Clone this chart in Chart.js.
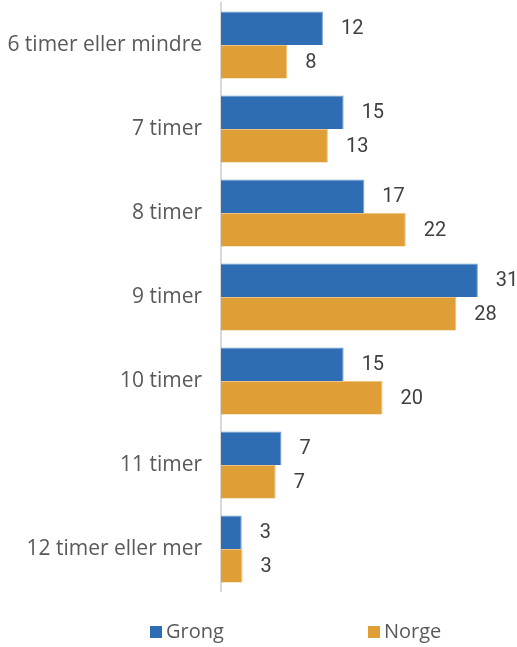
<!DOCTYPE html>
<html><head><meta charset="utf-8">
<script src="https://cdn.jsdelivr.net/npm/chart.js@4.4.0/dist/chart.umd.min.js"></script>
<style>html,body{margin:0;padding:0;background:#fff}#wrap{width:517px;height:647px}</style>
</head><body><div id="wrap"><canvas id="c" width="517" height="647"></canvas></div>
<script>
const categories = ["6 timer eller mindre","7 timer","8 timer","9 timer","10 timer","11 timer","12 timer eller mer"];
const grong = [12.3, 14.8, 17.3, 31.0, 14.8, 7.3, 2.5];
const norge = [8.0, 12.9, 22.3, 28.4, 19.5, 6.6, 2.6];
const seriesNames = ["Grong","Norge"];
const colors = ["#2E6DB4","#E09E37"];
const FONT = "'Open Sans', Roboto, sans-serif";
const NUMFONT = "Roboto, 'Open Sans', sans-serif";

const valueLabels = {
  id:'valueLabels',
  afterDatasetsDraw(chart){
    const ctx = chart.ctx;
    ctx.save();
    ctx.font = "20px " + NUMFONT;
    ctx.fillStyle = "#404040";
    ctx.textBaseline = "middle";
    ctx.textAlign = "left";
    chart.data.datasets.forEach((ds,i)=>{
      chart.getDatasetMeta(i).data.forEach((bar,j)=>{
        ctx.fillText(String(Math.round(ds.data[j])), bar.x + 18, bar.y + 1);
      });
    });
    ctx.restore();
  }
};
const customLegend = {
  id:'customLegend',
  afterDraw(chart){
    const ctx = chart.ctx;
    ctx.save();
    ctx.font = "20px " + FONT;
    ctx.textBaseline = "middle";
    const xs = [150, 368];
    const y = 632;
    chart.data.datasets.forEach((ds,i)=>{
      ctx.fillStyle = ds.backgroundColor;
      ctx.fillRect(xs[i], y-6, 12, 12);
      ctx.fillStyle = "#595959";
      ctx.fillText(ds.label, xs[i]+16, y);
    });
    ctx.restore();
  }
};

new Chart(document.getElementById('c'), {
  type:'bar',
  data:{
    labels: categories,
    datasets:[
      {label:seriesNames[0], data:grong, backgroundColor:colors[0], borderColor:"#6f9bd0", borderWidth:{top:1,right:1,bottom:0,left:0}, categoryPercentage:0.8, barPercentage:1.0},
      {label:seriesNames[1], data:norge, backgroundColor:colors[1], borderColor:"#ecc27f", borderWidth:{top:1,right:1,bottom:0,left:0}, categoryPercentage:0.8, barPercentage:1.0}
    ]
  },
  options:{
    indexAxis:'y',
    responsive:false,
    animation:false,
    layout:{padding:{top:3,bottom:56,right:6,left:0}},
    plugins:{legend:{display:false}, tooltip:{enabled:false}},
    scales:{
      x:{display:false, min:0, max:35},
      y:{
        grid:{display:false, drawTicks:false},
        border:{display:true, color:"#d9d9d9", width:2},
        ticks:{color:"#595959", font:{family:FONT, size:21}, padding:19},
        afterFit(s){ s.width = 221; s.paddingTop = 0; s.paddingBottom = 0; }
      }
    }
  },
  plugins:[valueLabels, customLegend]
});
</script></body></html>
